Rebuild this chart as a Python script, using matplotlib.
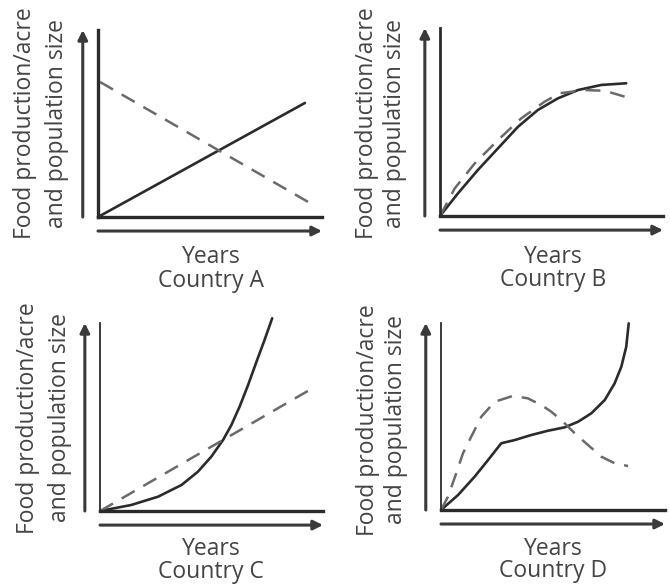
import matplotlib.pyplot as plt

plt.rcParams['font.family'] = ['Open Sans', 'DejaVu Sans']

# values, both axes on a 0-10 scale
a_food_x = [0, 9.24]
a_food_y = [0, 6.1]
a_pop_x = [0.09, 9.46]
a_pop_y = [7.22, 0.75]

b_food_x = [0, 0.81, 1.70, 2.60, 3.50, 4.39, 5.29, 6.19, 7.23, 8.35]
b_food_y = [0, 1.21, 2.45, 3.60, 4.75, 5.64, 6.26, 6.70, 6.97, 7.06]
b_pop_x = [0, 0.66, 1.56, 2.60, 3.65, 4.69, 5.37, 6.49, 7.39, 8.28]
b_pop_y = [0, 1.47, 2.80, 4.04, 5.20, 6.08, 6.53, 6.70, 6.66, 6.35]

c_food_x = [0, 1.40, 2.60, 3.65, 4.39, 4.99, 5.52, 5.89, 6.26, 6.64, 7.02, 7.38, 7.72]
c_food_y = [0, 0.32, 0.76, 1.38, 2.09, 2.89, 3.78, 4.57, 5.55, 6.70, 7.95, 9.10, 10.25]
c_pop_x = [0, 9.40]
c_pop_y = [0, 6.44]

d_food_x = [0, 0.76, 1.50, 2.10, 2.69, 3.29, 4.03, 4.78, 5.52, 6.12, 6.71, 7.31,
            7.75, 8.05, 8.27, 8.38]
d_food_y = [0, 0.80, 1.78, 2.67, 3.57, 3.74, 4.01, 4.24, 4.42, 4.72, 5.17, 5.88,
            6.77, 7.66, 8.73, 9.98]
d_pop_x = [0, 0.31, 0.68, 0.98, 1.35, 1.80, 2.40, 3.21, 3.88, 4.48, 4.92, 5.45,
           5.97, 6.56, 7.16, 7.75, 8.35]
d_pop_y = [0, 0.71, 1.96, 3.03, 3.92, 4.99, 5.79, 6.10, 5.97, 5.61, 5.26, 4.72,
           4.10, 3.48, 2.85, 2.50, 2.35]

countries = ['Country A', 'Country B', 'Country C', 'Country D']
ylabel_1 = 'Food production/acre'
ylabel_2 = 'and population size'
xlabel = 'Years'

W, H = 670, 587
fig = plt.figure(figsize=(W / 100, H / 100), dpi=100)

# (left, top, right, bottom) of each plot box in pixels
boxes = [(98, 30, 322, 217), (440, 28, 663, 216),
         (100, 323, 323, 511), (441, 323, 665, 510)]
# label positions in pixels: ylabel line1 x, line2 x, y centre, years/country centre x, baselines
label_pos = [
    (25, 57, 123, 211, 263, 287),
    (367, 395, 123, 553, 263, 286),
    (28, 60, 418, 211, 555, 578),
    (368, 396, 420, 553, 555, 577),
]
series = [
    (a_food_x, a_food_y, a_pop_x, a_pop_y),
    (b_food_x, b_food_y, b_pop_x, b_pop_y),
    (c_food_x, c_food_y, c_pop_x, c_pop_y),
    (d_food_x, d_food_y, d_pop_x, d_pop_y),
]
yaxis_lw = [2.4, 2.0, 1.3, 1.3]

text_col = '#444444'
line_col = '#2b2b2b'

def fx(px):
    return px / W

def fy(py):
    return 1 - py / H

for i in range(4):
    l, t, r, b = boxes[i]
    ax = fig.add_axes([fx(l), fy(b), (r - l) / W, (b - t) / H])
    ax.set_xlim(0, 10)
    ax.set_ylim(0, 10)
    ax.set_xticks([])
    ax.set_yticks([])
    ax.spines['top'].set_visible(False)
    ax.spines['right'].set_visible(False)
    ax.spines['left'].set_color(line_col)
    ax.spines['left'].set_linewidth(yaxis_lw[i])
    ax.spines['bottom'].set_color(line_col)
    ax.spines['bottom'].set_linewidth(2.4)
    ax.patch.set_alpha(0)

    fxs, fys, pxs, pys = series[i]
    ax.plot(fxs, fys, color=line_col, lw=1.9, clip_on=False,
            solid_capstyle='round', solid_joinstyle='round')
    ax.plot(pxs, pys, color='#6a6a6a', lw=1.8, ls=(0, (6, 4)), clip_on=False,
            dash_joinstyle='round')

    # arrows beside the axes
    arr = dict(arrowstyle='-|>', lw=2.2, color='#3a3a3a', mutation_scale=14,
               shrinkA=0, shrinkB=0)
    ax.annotate('', xy=(-0.068, 1.0), xytext=(-0.068, 0.0),
                xycoords='axes fraction', arrowprops=arr, annotation_clip=False)
    ax.annotate('', xy=(1.0, -0.075), xytext=(0.0, -0.075),
                xycoords='axes fraction', arrowprops=arr, annotation_clip=False)

    x1, x2, yc, xc, yb1, yb2 = label_pos[i]
    fig.text(fx(x1), fy(yc), ylabel_1, rotation=90, ha='center', va='center',
             fontsize=16.5, color=text_col)
    fig.text(fx(x2), fy(yc), ylabel_2, rotation=90, ha='center', va='center',
             fontsize=16.5, color=text_col)
    fig.text(fx(xc), fy(yb1), xlabel, ha='center', va='baseline',
             fontsize=16.5, color=text_col)
    fig.text(fx(xc), fy(yb2), countries[i], ha='center', va='baseline',
             fontsize=16.5, color=text_col)

plt.savefig('out.png', dpi=100)
